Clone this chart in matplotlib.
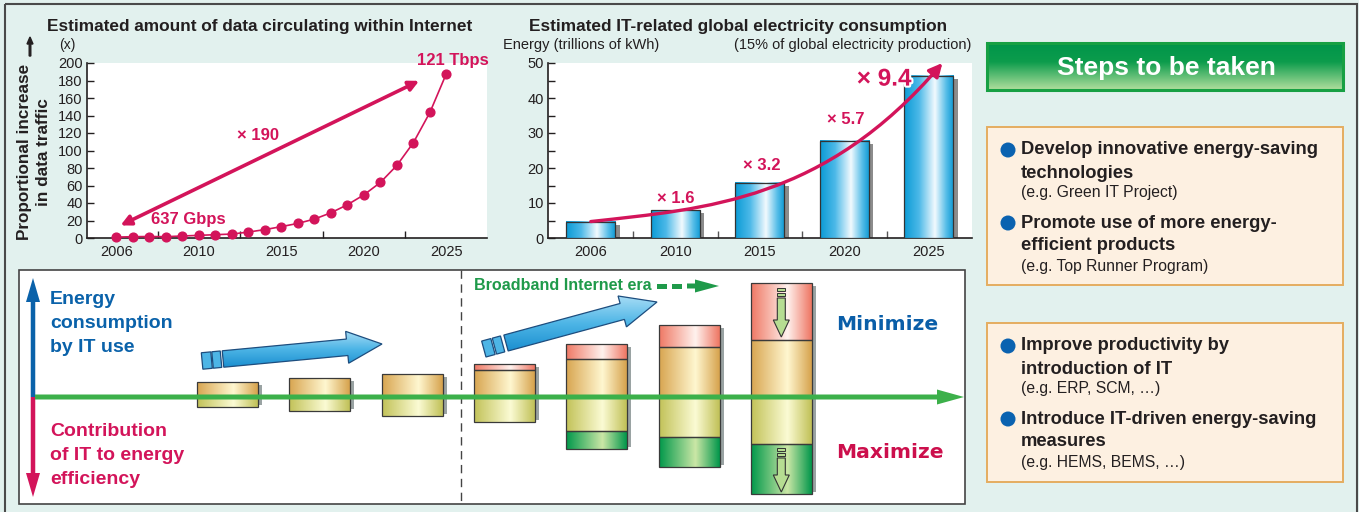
import numpy as np
import matplotlib
matplotlib.use('Agg')
import matplotlib.pyplot as plt
from matplotlib.patches import Rectangle, FancyArrow, FancyArrowPatch, Circle, Polygon
from matplotlib.path import Path
from matplotlib.colors import LinearSegmentedColormap
import matplotlib.patheffects as pe

plt.rcParams['font.family'] = ['Liberation Sans', 'DejaVu Sans']

# ---------------- data ----------------
traffic_title = 'Estimated amount of data circulating within Internet'
traffic_values = [1, 1.5, 1.7, 1.5, 2.3, 3, 3.8, 4.5, 6.8, 9.6, 13, 16.7,
                  21.6, 28.8, 38, 49.3, 63.5, 83, 109, 143.5, 188]
traffic_tick_pos = [0, 5, 10, 15, 20]
traffic_tick_labels = ['2006', '2010', '2015', '2020', '2025']
traffic_yticks = [0, 20, 40, 60, 80, 100, 120, 140, 160, 180, 200]

energy_title = 'Estimated IT-related global electricity consumption'
energy_years = ['2006', '2010', '2015', '2020', '2025']
energy_values = [4.7, 8.0, 15.8, 27.8, 46.4]
energy_multipliers = ['× 1.6', '× 3.2', '× 5.7']
energy_total_mult = '× 9.4'
energy_yticks = [0, 10, 20, 30, 40, 50]

# schematic blocks (segment heights, px)
block_red = [0, 0, 0, 6, 15, 22, 57]
block_tan = [15, 19, 23, 27, 38, 50, 57]
block_ygreen = [10, 14, 19, 25, 34, 40, 47]
block_green = [0, 0, 0, 0, 18, 30, 50]

steps_box1 = [('Develop innovative energy-saving', 'technologies', '(e.g. Green IT Project)'),
              ('Promote use of more energy-', 'efficient products', '(e.g. Top Runner Program)')]
steps_box2 = [('Improve productivity by', 'introduction of IT', '(e.g. ERP, SCM, …)'),
              ('Introduce IT-driven energy-saving', 'measures', '(e.g. HEMS, BEMS, …)')]

# ---------------- style ----------------
W, H = 1359, 512
BG = '#e2f1ee'
CRIMSON = '#d3145a'
BLUE = '#0a62aa'
DARK = '#231f20'
GREEN = '#3cb04a'

fig = plt.figure(figsize=(W / 100, H / 100), dpi=100, facecolor=BG)

ax0 = fig.add_axes([0, 0, 1, 1], zorder=0)
ax0.set_facecolor(BG)
ax0.axis('off')


def axes_px(x0, y0, x1, y1, z=2):
    return fig.add_axes([x0 / W, 1 - y1 / H, (x1 - x0) / W, (y1 - y0) / H], zorder=z)


def grad_img(ax, x0, x1, y0, y1, colors, vertical=False, z=2, clip=None):
    cmap = LinearSegmentedColormap.from_list('g', colors)
    g = np.linspace(0, 1, 256)
    g = g.reshape(-1, 1) if vertical else g.reshape(1, -1)
    im = ax.imshow(g, extent=(x0, x1, y1, y0), cmap=cmap, aspect='auto',
                   zorder=z, interpolation='bilinear')
    if clip is not None:
        im.set_clip_path(clip)
    return im


# outer frame
ax0.add_patch(Rectangle((5, 4), 1352, 520, fc='none', ec='#4a4a4a', lw=1.5, zorder=1))

# ================= left chart =================
axL = axes_px(87, 63, 487, 238)
axL.set_facecolor('white')
xs = np.arange(len(traffic_values))
axL.plot(xs, traffic_values, color=CRIMSON, lw=1.2, marker='o', ms=6.3,
         mec=CRIMSON, mfc=CRIMSON, zorder=3, clip_on=False)
axL.set_xlim(-1.78, 22.46)
axL.set_ylim(0, 200)
axL.set_yticks(traffic_yticks)
axL.set_xticks(traffic_tick_pos)
axL.set_xticklabels(traffic_tick_labels)
axL.set_xticks([2.5, 7.5, 12.5, 17.5], minor=True)
axL.tick_params(axis='x', which='major', length=0, labelsize=10.5, colors=DARK, pad=5)
axL.tick_params(axis='x', which='minor', length=5, direction='in', color=DARK, width=1)
axL.tick_params(axis='y', which='major', length=5, direction='in', labelsize=10.5,
                colors=DARK, pad=3, width=1)
for s in ['top', 'right']:
    axL.spines[s].set_visible(False)
for s in ['left', 'bottom']:
    axL.spines[s].set_color(DARK)
    axL.spines[s].set_linewidth(1.2)
axL.add_patch(FancyArrowPatch((0.1, 13), (18.5, 181), arrowstyle='<|-|>',
                              mutation_scale=15, lw=2.6, color=CRIMSON, zorder=4))
axL.text(8.6, 117, '× 190', color=CRIMSON, fontsize=12, fontweight='bold',
         ha='center', va='center')
axL.text(2.1, 21, '637 Gbps', color=CRIMSON, fontsize=12, fontweight='bold',
         ha='left', va='center')
axL.text(20.4, 203, '121 Tbps', color=CRIMSON, fontsize=12, fontweight='bold',
         ha='center', va='center', clip_on=False)

ax0.text(260, 26, traffic_title, fontsize=12.4, fontweight='bold', color=DARK,
         ha='center', va='center')
ax0.text(67, 45, '(x)', fontsize=10, color=DARK, ha='center', va='center')
ax0.text(25, 152, 'Proportional increase', fontsize=12.3, fontweight='bold',
         color=DARK, rotation=90, ha='center', va='center')
ax0.text(44, 152, 'in data traffic', fontsize=12.3, fontweight='bold',
         color=DARK, rotation=90, ha='center', va='center')
ax0.add_patch(FancyArrow(30, 56, 0, -19, width=1.6, head_width=6, head_length=7,
                         length_includes_head=True, color=DARK, zorder=3))

# ================= right chart =================
axR = axes_px(548, 63, 972, 238)
axR.set_facecolor('white')
bx = np.arange(len(energy_values))
bw = 0.58
shadow = axR.bar(bx + 0.05, np.array(energy_values) - 0.9, width=bw, bottom=0,
                 color='#8c8c8c', zorder=2)
bars = axR.bar(bx, energy_values, width=bw, color='none', edgecolor='#333333',
               lw=0.9, zorder=4)
blue_cols = [(0, '#0a9bd5'), (0.3, '#4cb9e8'), (0.62, '#f2fafe'),
             (0.85, '#55bde8'), (1, '#0a98d3')]
for b in bars:
    grad_img(axR, b.get_x(), b.get_x() + b.get_width(), b.get_height(), 0,
             blue_cols, z=3)
axR.set_xlim(-0.506, 4.51)
axR.set_ylim(0, 50)
axR.set_xticks(bx)
axR.set_xticklabels(energy_years)
axR.set_xticks([0.5, 1.5, 2.5, 3.5], minor=True)
axR.set_yticks(energy_yticks)
axR.set_yticks([5, 15, 25, 35, 45], minor=True)
axR.tick_params(axis='x', which='major', length=0, labelsize=10.5, colors=DARK, pad=5)
axR.tick_params(axis='x', which='minor', length=5, direction='in', color='#555555', width=1)
axR.tick_params(axis='y', which='major', length=5, direction='in', labelsize=10.5,
                colors=DARK, pad=3, width=1)
axR.tick_params(axis='y', which='minor', length=5, direction='in', color=DARK, width=1)
for s in ['top', 'right']:
    axR.spines[s].set_visible(False)
for s in ['left', 'bottom']:
    axR.spines[s].set_color(DARK)
    axR.spines[s].set_linewidth(1.2)

# growth curve (cubic bezier) with arrow head
p0 = (bx[0], energy_values[0])
p3 = (4.16, 50)
curve = Path([p0, (1.39, 8.4), (2.77, 10.8), p3],
             [Path.MOVETO, Path.CURVE4, Path.CURVE4, Path.CURVE4])
axR.add_patch(FancyArrowPatch(path=curve, arrowstyle='-|>', mutation_scale=20,
                              lw=2.4, color=CRIMSON, zorder=6, clip_on=False))
mult_pos = [(1.0, 11.4), (2.02, 20.8), (3.02, 34.0)]
for (mx, my), t in zip(mult_pos, energy_multipliers):
    axR.text(mx, my, t, color=CRIMSON, fontsize=12, fontweight='bold',
             ha='center', va='center', zorder=7)
axR.text(3.47, 45.4, energy_total_mult, color=CRIMSON, fontsize=17.5, fontweight='bold',
         ha='center', va='center', zorder=7,
         path_effects=[pe.withStroke(linewidth=3, foreground='white')])

ax0.text(738, 26, energy_title, fontsize=12.4, fontweight='bold', color=DARK,
         ha='center', va='center')
ax0.text(503, 45, 'Energy (trillions of kWh)', fontsize=10.5, color=DARK,
         ha='left', va='center')
ax0.text(971, 45, '(15% of global electricity production)', fontsize=10.5, color=DARK,
         ha='right', va='center')

# ================= bottom schematic =================
ax0.add_patch(Rectangle((19, 270), 946, 234, fc='white', ec='#444444', lw=1.2, zorder=1))
ax0.plot([461, 461], [270, 504], color='#444444', lw=1, ls=(0, (6, 4)), zorder=2)

LINE_Y = 397
tan_cols = [(0, '#d8a550'), (0.6, '#fff7d0'), (1, '#d6a24c')]
yg_cols = [(0, '#c2c258'), (0.6, '#fbfbd4'), (1, '#c0c056')]
red_cols = [(0, '#ef7864'), (0.6, '#fff2ee'), (1, '#ee7562')]
grn_cols = [(0, '#00984a'), (0.6, '#cbe7a6'), (1, '#00964a')]
BW = 61
for i in range(len(block_tan)):
    x0 = 197 + i * 92.3
    x1 = x0 + BW
    top = LINE_Y - block_tan[i] - block_red[i]
    bot = LINE_Y + block_ygreen[i] + block_green[i]
    ax0.add_patch(Rectangle((x1, top + 3), 4, bot - top - 5, fc='#9aa3a3', ec='none', zorder=2))
    segs = [(top, top + block_red[i], red_cols),
            (LINE_Y - block_tan[i], LINE_Y, tan_cols),
            (LINE_Y, LINE_Y + block_ygreen[i], yg_cols),
            (LINE_Y + block_ygreen[i], bot, grn_cols)]
    for (ya, yb, cols) in segs:
        if yb - ya <= 0:
            continue
        grad_img(ax0, x0, x1, ya, yb, cols, z=3)
        ax0.add_patch(Rectangle((x0, ya), BW, yb - ya, fc='none', ec='#3a3a3a',
                                lw=0.9, zorder=4))

# green horizontal arrow + vertical arrows
ax0.add_patch(FancyArrow(33, LINE_Y, 0, -119, width=4.5, head_width=14, head_length=24,
                         length_includes_head=True, color=BLUE, lw=0, zorder=5))
ax0.add_patch(FancyArrow(33, LINE_Y, 0, 100, width=4.5, head_width=14, head_length=24,
                         length_includes_head=True, color=CRIMSON, lw=0, zorder=5))
ax0.add_patch(FancyArrow(35, LINE_Y, 929, 0, width=5, head_width=15, head_length=27,
                         length_includes_head=True, color=GREEN, lw=0, zorder=6))

for yy, t in zip([300, 324, 348], ['Energy', 'consumption', 'by IT use']):
    ax0.text(50, yy, t, color=BLUE, fontsize=14, fontweight='bold', ha='left', va='center')
for yy, t in zip([432, 456, 480], ['Contribution', 'of IT to energy', 'efficiency']):
    ax0.text(50, yy, t, color=CRIMSON, fontsize=14, fontweight='bold', ha='left', va='center')


def slanted_arrow(start, tip, dash_starts, width, head_w, head_len):
    sx, sy = start
    tx, ty = tip
    d = np.array([tx - sx, ty - sy], float)
    L = np.hypot(*d)
    u = d / L
    n = np.array([-u[1], u[0]])
    arr = FancyArrow(sx, sy, d[0], d[1], width=width, head_width=head_w,
                     head_length=head_len, length_includes_head=True,
                     fc='none', ec='#1d4d7e', lw=0.9, zorder=6)
    ax0.add_patch(arr)
    xs_ = [p[0] for p in arr.get_xy()]
    ys_ = [p[1] for p in arr.get_xy()]
    im = grad_img(ax0, min(xs_), max(xs_), min(ys_), max(ys_),
                  [(0, '#a6dcf5'), (0.5, '#4db5e6'), (1, '#1b8fd0')], vertical=True, z=5)
    im.set_clip_path(arr)
    for ds, dl in dash_starts:
        c0 = np.array([sx, sy]) + u * ds
        c1 = c0 + u * dl
        pts = [c0 + n * width / 2, c1 + n * width / 2, c1 - n * width / 2, c0 - n * width / 2]
        ax0.add_patch(Polygon(pts, closed=True, fc='#4db5e6', ec='#1d4d7e', lw=0.9, zorder=6))


slanted_arrow((223, 359), (382, 344), [(-21, 9.5), (-10.5, 8.5)], 16.5, 32, 35)
slanted_arrow((506, 343), (657, 302), [(-23, 9.5), (-12, 8.5)], 16.5, 32, 36)

# broadband label + dashed arrow
ax0.text(474, 286, 'Broadband Internet era', color='#1f9a4a', fontsize=11.6,
         fontweight='bold', ha='left', va='center')
for xa in [657, 672]:
    ax0.add_patch(Rectangle((xa, 283.5), 10, 5, fc='#1f9a4a', ec='none', zorder=5))
ax0.add_patch(FancyArrow(687, 286, 32, 0, width=5, head_width=13, head_length=24,
                         length_includes_head=True, color='#1f9a4a', lw=0, zorder=5))

# down arrows in the tallest block
bx7 = 197 + 6 * 92.3 + BW / 2
for (d0, a0, a1) in [(288, 298, 337), (448, 458, 492)]:
    for k in range(2):
        ax0.add_patch(Rectangle((bx7 - 4, d0 + k * 4.5), 8, 3, fc='#b6dd92',
                                ec='#333333', lw=0.7, zorder=7))
    ax0.add_patch(FancyArrow(bx7, a0, 0, a1 - a0, width=8, head_width=16, head_length=17,
                             length_includes_head=True, fc='#b6dd92', ec='#333333',
                             lw=0.8, zorder=7))

ax0.text(836, 324, 'Minimize', color='#0a5ea8', fontsize=14.6, fontweight='bold',
         family='DejaVu Sans', ha='left', va='center')
ax0.text(836, 453, 'Maximize', color='#cc0f4c', fontsize=14.6, fontweight='bold',
         family='DejaVu Sans', ha='left', va='center')

# ================= right panel =================
grad_img(ax0, 987, 1343, 43, 90, [(0, '#00954a'), (0.4, '#0c9c4c'), (1, '#b2df9e')],
         vertical=True, z=2)
ax0.add_patch(Rectangle((987, 43), 356, 47, fc='none', ec='#17a043', lw=2.2, zorder=3))
ax0.text(1166, 68, 'Steps to be taken', color='white', fontsize=19, fontweight='bold',
         ha='center', va='center', zorder=4)

for (y0, y1, items) in [(127, 285, steps_box1), (323, 482, steps_box2)]:
    ax0.add_patch(Rectangle((987, y0), 356, y1 - y0, fc='#fdf0e1', ec='#e5ad60',
                            lw=1.4, zorder=2))
    base = y0 + 23
    for j, (l1, l2, l3) in enumerate(items):
        yb = base + j * 73
        ax0.add_patch(Circle((1008, yb), 7.5, fc='#0a62b0', ec='none', zorder=3))
        ax0.text(1021, yb, l1, color=DARK, fontsize=13.2, fontweight='bold',
                 ha='left', va='center', zorder=4)
        ax0.text(1021, yb + 23, l2, color=DARK, fontsize=13.2, fontweight='bold',
                 ha='left', va='center', zorder=4)
        ax0.text(1021, yb + 43, l3, color=DARK, fontsize=11.3, ha='left',
                 va='center', zorder=4)

ax0.set_xlim(0, W)
ax0.set_ylim(H, 0)

fig.savefig('out.png', dpi=100, facecolor=BG)
